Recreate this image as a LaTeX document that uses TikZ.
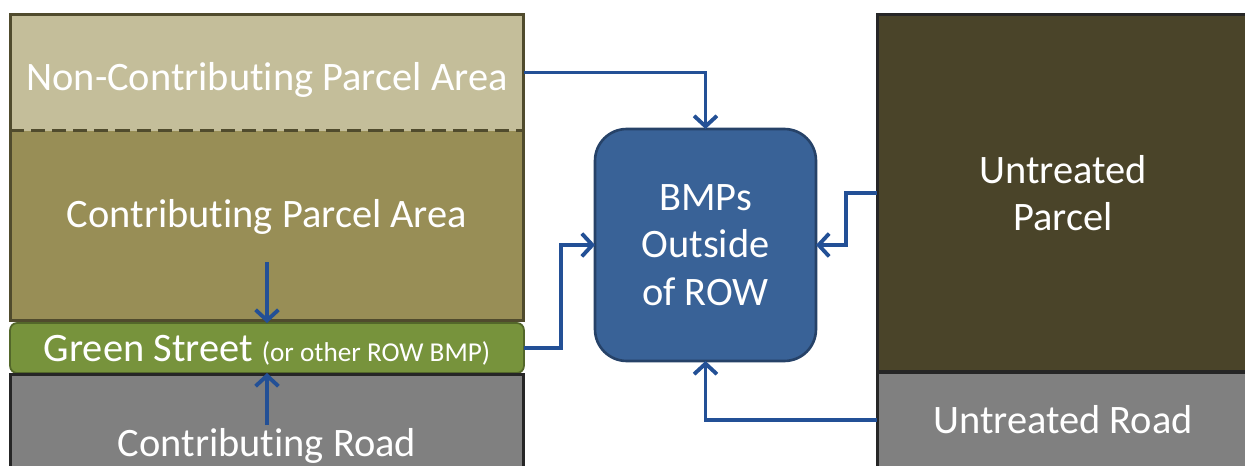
\documentclass[tikz,border=0pt]{standalone}
\usepackage{fontspec}
\setmainfont{Carlito}[Ligatures=NoCommon]
\usetikzlibrary{arrows.meta}

\definecolor{noncontrib}{RGB}{196,190,154}
\definecolor{contrib}{RGB}{152,142,86}
\definecolor{parcelline}{RGB}{80,75,45}
\definecolor{greenrow}{RGB}{119,147,60}
\definecolor{roadgray}{RGB}{128,128,128}
\definecolor{roadline}{RGB}{38,38,38}
\definecolor{untreated}{RGB}{74,68,41}
\definecolor{bmpblue}{RGB}{57,98,151}
\definecolor{bmpline}{RGB}{38,66,104}
\definecolor{flowblue}{RGB}{35,80,150}

\tikzset{
  area/.style={inner sep=0pt, outer sep=0pt},
  lbl/.style={text=white, font=\fontsize{23}{27}\selectfont, align=center},
  flow/.style={draw=flowblue, line width=2.2pt, -{Straight Barb[length=6pt,width=13pt]}},
}

\begin{document}
\begin{tikzpicture}[x=0.02cm, y=-0.02cm]
    \clip (0,0) rectangle (1245,466);
    \fill[white] (0,0) rectangle (1245,466);

    % left column
    \node[area, fill=noncontrib, minimum width=10.28cm, minimum height=2.34cm] (ncpa) at (267,72.5) {};
    \node[area, fill=contrib, minimum width=10.28cm, minimum height=3.8cm] (cpa) at (267,226) {};
    \draw[parcelline, line width=1.7pt] (ncpa.north west) rectangle (cpa.south east);
    \draw[parcelline, line width=1.7pt, dash pattern=on 8pt off 4pt] (ncpa.south west) -- (ncpa.south east);
    \node[area, fill=greenrow, draw=greenrow!70!black, line width=1pt, rounded corners=4pt,
          minimum width=10.28cm, minimum height=1.0cm] (green) at (267,348) {};
    \node[area, fill=roadgray, draw=roadline, line width=1.7pt,
          minimum width=10.28cm, minimum height=2.0cm] (croad) at (267,424) {};

    \node[lbl] (ncpalabel) at (267,80) {Non-Contributing Parcel Area};
    \node[lbl] (cpalabel) at (267,217) {Contributing Parcel Area};
    \node[lbl] (greenlabel) at (267,350) {Green Street {\fontsize{15.5}{18}\selectfont(or other ROW BMP)}};
    \node[lbl] (croadlabel) at (267,446) {Contributing Road};

    % right column
    \node[area, lbl, fill=untreated, draw=roadline, line width=1.7pt,
          minimum width=7.44cm, minimum height=7.16cm] (uparcel) at (1063,193) {Untreated\\Parcel};
    \node[area, lbl, fill=roadgray, draw=roadline, line width=1.7pt,
          minimum width=7.44cm, minimum height=1.92cm] (uroad) at (1063,420) {Untreated Road};

    % BMPs outside of ROW
    \node[area, lbl, fill=bmpblue, draw=bmpline, line width=1.5pt, rounded corners=18pt,
          minimum width=4.42cm, minimum height=4.64cm] (bmp) at (705.5,245) {BMPs\\Outside\\of ROW};

    % flows
    \coordinate (cpaout) at (267,262);
    \coordinate (croadout) at (267,425);
    \draw[flow] (cpaout) -- (green.north);
    \draw[flow] (croadout) -- (green.south);
    \draw[flow] (ncpa.east) -| (bmp.north);
    \draw[flow] (green.east) -- ++(37,0) |- (bmp.west);
    \draw[flow] (uparcel.west) -- ++(-31,0) |- (bmp.east);
    \draw[flow] (uroad.west) -| (bmp.south);
\end{tikzpicture}
\end{document}
